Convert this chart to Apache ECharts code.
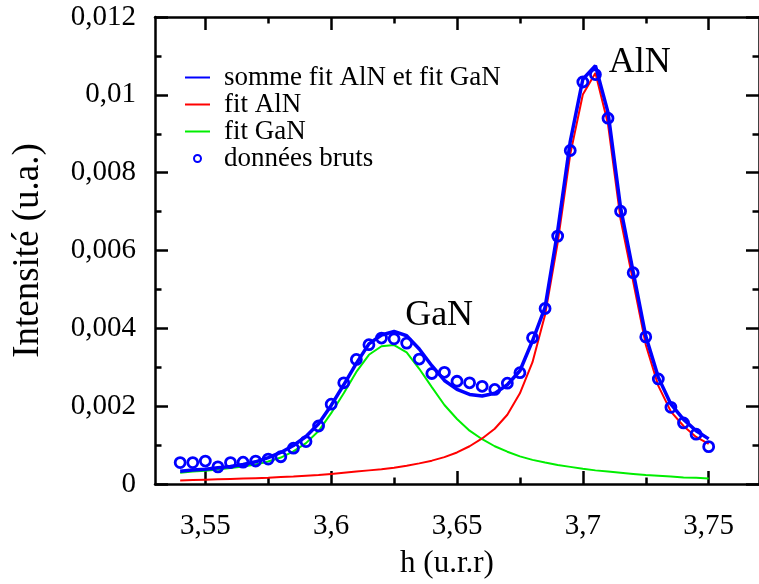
<!DOCTYPE html>
<html>
<head>
<meta charset="utf-8">
<script src="https://cdn.jsdelivr.net/npm/echarts@6/dist/echarts.min.js"></script>
<style>html,body{margin:0;padding:0;background:#fff;}#c{width:759px;height:584px;}</style>
</head>
<body>
<div id="c"></div>
<script>
const h = [3.540,3.545,3.550,3.555,3.560,3.565,3.570,3.575,3.580,3.585,3.590,3.595,3.600,3.605,3.610,3.615,3.620,3.625,3.630,3.635,3.640,3.645,3.650,3.655,3.660,3.665,3.670,3.675,3.680,3.685,3.690,3.695,3.700,3.705,3.710,3.715,3.720,3.725,3.730,3.735,3.740,3.745,3.750];
const rawData = [0.00055,0.00055,0.00059,0.00044,0.00055,0.00056,0.00059,0.00064,0.00070,0.00092,0.00109,0.00149,0.00205,0.00260,0.00320,0.00358,0.00375,0.00373,0.00362,0.00321,0.00284,0.00287,0.00264,0.00260,0.00251,0.00243,0.00259,0.00286,0.00376,0.00451,0.00637,0.00857,0.01033,0.01052,0.00940,0.00701,0.00543,0.00378,0.00270,0.00197,0.00157,0.00128,0.00096];
const sumFit = [0.00033,0.00036,0.00038,0.00042,0.00045,0.00050,0.00057,0.00068,0.00081,0.00099,0.00122,0.00155,0.00202,0.00255,0.00310,0.00360,0.00383,0.00392,0.00381,0.00347,0.00304,0.00266,0.00243,0.00230,0.00226,0.00233,0.00255,0.00291,0.00368,0.00454,0.00650,0.00880,0.01040,0.01075,0.00955,0.00710,0.00545,0.00380,0.00274,0.00205,0.00166,0.00137,0.00116];
const fitAlN = [0.00009,0.00010,0.00011,0.00012,0.00013,0.00014,0.00015,0.00016,0.00018,0.00019,0.00021,0.00023,0.00026,0.00029,0.00032,0.00035,0.00038,0.00042,0.00047,0.00053,0.00060,0.00069,0.00081,0.00097,0.00117,0.00142,0.00178,0.00233,0.00313,0.00435,0.00620,0.00847,0.01001,0.01056,0.00925,0.00680,0.00520,0.00358,0.00252,0.00186,0.00149,0.00121,0.00103];
const fitGaN = [0.00029,0.00032,0.00034,0.00037,0.00041,0.00045,0.00050,0.00058,0.00068,0.00084,0.00105,0.00136,0.00182,0.00233,0.00288,0.00332,0.00354,0.00357,0.00338,0.00296,0.00249,0.00203,0.00167,0.00137,0.00115,0.00097,0.00083,0.00071,0.00062,0.00055,0.00049,0.00044,0.00039,0.00035,0.00032,0.00029,0.00026,0.00023,0.00021,0.00019,0.00017,0.00016,0.00014];
const xMajorTicks = [3.55,3.60,3.65,3.70,3.75];
const xMinorTicks = [3.575,3.625,3.675,3.725];
const annoText = ['AlN','GaN'];
const annoX = [3.7226,3.6429];
const annoY = [0.01083,0.00434];
const names = ['somme fit AlN et fit GaN','fit AlN','fit GaN','données bruts'];

const FONT = 'Liberation Serif';
const pair = (arr) => h.map((x,i)=>[x,arr[i]]);
const fmt = v => { const n = Number(Number(v).toFixed(4)); return String(n).replace('.', ','); };

const chart = echarts.init(document.getElementById('c'), null, {renderer:'canvas'});
const axisLine = {show:true, lineStyle:{color:'#000', width:2.5}};
const baseX = {type:'value', min:3.53, max:3.77, splitLine:{show:false}};
const baseY = {type:'value', min:0, max:0.012, interval:0.002, splitLine:{show:false}};
chart.setOption({
  animation:false,
  textStyle:{fontFamily:FONT},
  grid:{left:155, top:17, width:605, height:468, containLabel:false},
  legend:{
    data: names.map((n,i)=> i===3 ? {name:n, icon:'circle'} : {name:n, itemStyle:{opacity:0}}),
    orient:'vertical', left:184, top:64, padding:0, itemGap:0,
    itemWidth:25, itemHeight:7,
    textStyle:{fontFamily:FONT, fontSize:27, color:'#000', lineHeight:26, padding:[0,0,0,9]}
  },
  xAxis:[
    Object.assign({}, baseX, {position:'bottom', axisLine:axisLine,
      axisTick:{inside:true, length:13, customValues:xMajorTicks, lineStyle:{color:'#000', width:2.5}},
      axisLabel:{customValues:xMajorTicks, formatter:fmt, fontFamily:FONT, fontSize:29, color:'#000', margin:28},
      name:'h (u.r.r)', nameLocation:'middle', nameGap:64,
      nameTextStyle:{fontFamily:FONT, fontSize:31, color:'#000', padding:[0,20,0,0]}}),
    Object.assign({}, baseX, {position:'bottom', axisLine:{show:false},
      axisTick:{inside:true, length:6.5, customValues:xMinorTicks, lineStyle:{color:'#000', width:2.5}},
      axisLabel:{show:false}}),
    Object.assign({}, baseX, {position:'top', axisLine:axisLine,
      axisTick:{inside:true, length:13, customValues:xMajorTicks, lineStyle:{color:'#000', width:2.5}},
      axisLabel:{show:false}}),
    Object.assign({}, baseX, {position:'top', axisLine:{show:false},
      axisTick:{inside:true, length:6.5, customValues:xMinorTicks, lineStyle:{color:'#000', width:2.5}},
      axisLabel:{show:false}})
  ],
  yAxis:[
    Object.assign({}, baseY, {position:'left', axisLine:axisLine,
      axisTick:{inside:true, length:13, lineStyle:{color:'#000', width:2.5}},
      minorTick:{show:true, splitNumber:2, length:6.5, lineStyle:{color:'#000', width:2.5}},
      axisLabel:{formatter:fmt, fontFamily:FONT, fontSize:29, color:'#000', margin:19},
      name:'Intensité (u.a.)', nameLocation:'middle', nameGap:108,
      nameTextStyle:{fontFamily:FONT, fontSize:37, color:'#000'}}),
    Object.assign({}, baseY, {position:'right', axisLine:axisLine,
      axisTick:{inside:true, length:13, lineStyle:{color:'#000', width:2.5}},
      minorTick:{show:true, splitNumber:2, length:6.5, lineStyle:{color:'#000', width:2.5}},
      axisLabel:{show:false}})
  ],
  series:[
    {name:names[2], type:'line', data:pair(fitGaN), symbol:'none', z:2,
      lineStyle:{color:'#00ee00', width:2}, itemStyle:{color:'#00ee00'}},
    {name:names[1], type:'line', data:pair(fitAlN), symbol:'none', z:3,
      lineStyle:{color:'#ff0000', width:2}, itemStyle:{color:'#ff0000'}},
    {name:names[0], type:'line', data:pair(sumFit), symbol:'none', z:4,
      lineStyle:{color:'#0000ff', width:3.5}, itemStyle:{color:'#0000ff'}},
    {name:names[3], type:'scatter', data:pair(rawData), symbol:'circle', symbolSize:10, z:5,
      itemStyle:{color:'rgba(255,255,255,0)', borderColor:'#0000ff', borderWidth:2.8, opacity:1}},
    {name:'annotations', type:'scatter', symbolSize:0, silent:true, z:6,
      itemStyle:{opacity:1},
      data: annoText.map((t,i)=>({name:t, value:[annoX[i], annoY[i]]})),
      label:{show:true, position:'inside', formatter:p=>p.name, fontFamily:FONT, fontSize:36, color:'#000', opacity:1}}
  ]
});
</script>
</body>
</html>
